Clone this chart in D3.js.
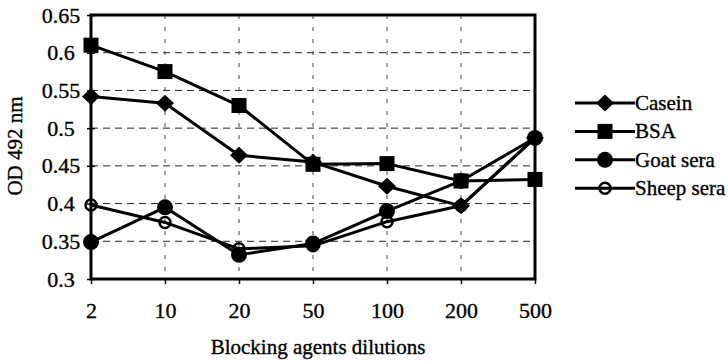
<!DOCTYPE html>
<html>
<head>
<meta charset="utf-8">
<script src="https://d3js.org/d3.v7.min.js"></script>
<style>
  body { margin: 0; background: #fff; }
  svg text { stroke: #000; stroke-width: 0.35px; }
</style>
</head>
<body>
<script>
// values
var dilutions = ["2", "10", "20", "50", "100", "200", "500"];
var casein    = [0.542, 0.533, 0.464, 0.455, 0.423, 0.397, 0.487];
var bsa       = [0.610, 0.575, 0.530, 0.452, 0.453, 0.430, 0.432];
var goatSera  = [0.349, 0.395, 0.332, 0.347, 0.390, 0.430, 0.487];
var sheepSera = [0.398, 0.375, 0.340, 0.344, 0.376, 0.397, 0.487];
var yTicks = [0.3, 0.35, 0.4, 0.45, 0.5, 0.55, 0.6, 0.65];

var W = 728, H = 361;
var FONT = "'Liberation Serif', 'Times New Roman', serif";
var margin = {top: 15, left: 91},
    width = 444,
    height = 264;

var series = [
  {name: "Casein",     values: casein,    marker: "diamond"},
  {name: "BSA",        values: bsa,       marker: "square"},
  {name: "Goat sera",  values: goatSera,  marker: "circle"},
  {name: "Sheep sera", values: sheepSera, marker: "open"}
];

var svg = d3.select("body").append("svg")
    .attr("width", W)
    .attr("height", H)
    .style("font-family", FONT);

var g = svg.append("g")
    .attr("transform", "translate(" + margin.left + "," + margin.top + ")");

var x = d3.scalePoint().domain(dilutions).range([0, width]);
var y = d3.scaleLinear().domain([0.3, 0.65]).range([height, 0]);

// dashed grid
g.append("g").selectAll("line")
  .data(yTicks.slice(1, -1))
  .enter().append("line")
    .attr("x1", 0).attr("x2", width)
    .attr("y1", d => y(d)).attr("y2", d => y(d))
    .attr("stroke", "#222").attr("stroke-width", 1)
    .attr("stroke-dasharray", "7,5");

g.append("g").selectAll("line")
  .data(dilutions.slice(1, -1))
  .enter().append("line")
    .attr("x1", d => x(d)).attr("x2", d => x(d))
    .attr("y1", 0).attr("y2", height)
    .attr("stroke", "#444").attr("stroke-width", 1)
    .attr("stroke-dasharray", "4,8");

// axes
var yAxis = g.append("g")
    .call(d3.axisLeft(y).tickValues(yTicks).tickFormat(d => d).tickSize(4).tickPadding(0));
yAxis.attr("font-family", null).attr("font-size", null);
yAxis.select(".domain").remove();
yAxis.selectAll(".tick line").attr("x1", -4).attr("x2", 4).attr("stroke-width", 1.5);
yAxis.selectAll(".tick text")
    .attr("x", 61 - margin.left)
    .attr("text-anchor", "middle")
    .style("font-family", FONT)
    .style("font-size", "22px");

var xAxis = g.append("g")
    .attr("transform", "translate(0," + height + ")")
    .call(d3.axisBottom(x).tickSize(5).tickPadding(0));
xAxis.attr("font-family", null).attr("font-size", null);
xAxis.select(".domain").remove();
xAxis.selectAll(".tick line").attr("stroke-width", 1.5);
xAxis.selectAll(".tick text")
    .attr("y", 0)
    .attr("dy", "39px")
    .style("font-family", FONT)
    .style("font-size", "22px");

// frame
g.append("rect")
    .attr("x", 0).attr("y", 0)
    .attr("width", width).attr("height", height)
    .attr("fill", "none")
    .attr("stroke", "#000")
    .attr("stroke-width", 3);

// lines
var line = d3.line()
    .x((d, i) => x(dilutions[i]))
    .y(d => y(d));

g.append("g").selectAll("path")
  .data(series)
  .enter().append("path")
    .attr("d", d => line(d.values))
    .attr("fill", "none")
    .attr("stroke", "#000")
    .attr("stroke-width", 3)
    .attr("stroke-linejoin", "round");

function drawMarker(sel, type, cx, cy) {
  if (type === "diamond") {
    sel.append("path")
      .attr("d", "M" + cx + "," + (cy - 8.5) + "L" + (cx + 9) + "," + cy + "L" + cx + "," + (cy + 8.5) + "L" + (cx - 9) + "," + cy + "Z")
      .attr("fill", "#000");
  } else if (type === "square") {
    sel.append("rect")
      .attr("x", cx - 7.5).attr("y", cy - 7.5)
      .attr("width", 15).attr("height", 15)
      .attr("fill", "#000");
  } else if (type === "circle") {
    sel.append("circle")
      .attr("cx", cx).attr("cy", cy).attr("r", 8)
      .attr("fill", "#000");
  } else {
    sel.append("circle")
      .attr("cx", cx).attr("cy", cy).attr("r", 5.5)
      .attr("fill", "none")
      .attr("stroke", "#000")
      .attr("stroke-width", 2.5);
  }
}

// markers, drawn in the order that gives the overlaps seen in the picture
var markerOrder = [0, 3, 2, 1];
var marks = g.append("g");
markerOrder.forEach(k => {
  var s = series[k];
  s.values.forEach((v, i) => drawMarker(marks, s.marker, x(dilutions[i]), y(v)));
});

// legend
var legend = svg.append("g");
series.forEach((s, i) => {
  var ly = 103 + i * 28.4;
  legend.append("line")
    .attr("x1", 575).attr("x2", 635)
    .attr("y1", ly).attr("y2", ly)
    .attr("stroke", "#000").attr("stroke-width", 3);
  drawMarker(legend, s.marker, 605, ly);
  legend.append("text")
    .attr("x", 635).attr("y", ly + 7)
    .style("font-family", FONT)
    .style("font-size", "21px")
    .text(s.name);
});

// axis titles
svg.append("text")
    .attr("x", 318).attr("y", 354)
    .attr("text-anchor", "middle")
    .style("font-family", FONT)
    .style("font-size", "21px")
    .text("Blocking agents dilutions");

svg.append("text")
    .attr("transform", "translate(22,146) rotate(-90)")
    .attr("text-anchor", "middle")
    .style("font-family", FONT)
    .style("font-size", "21px")
    .text("OD 492 nm");
</script>
</body>
</html>
